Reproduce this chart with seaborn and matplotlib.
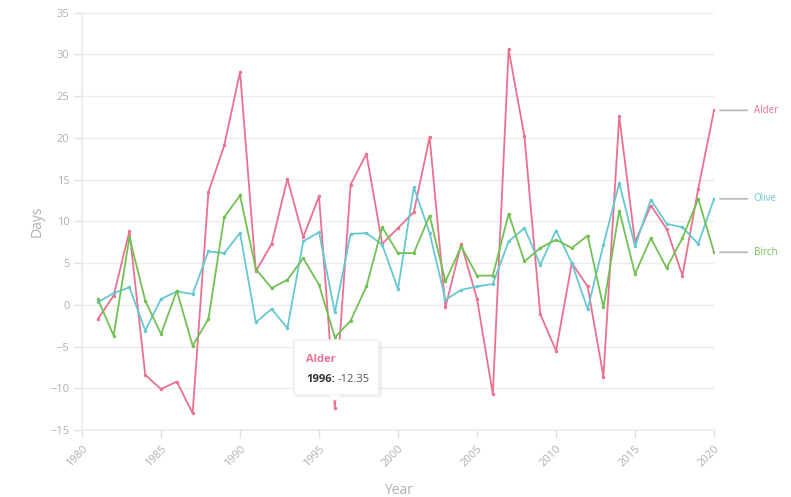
import matplotlib
matplotlib.use("Agg")
import matplotlib.pyplot as plt
from matplotlib.patches import FancyBboxPatch, Polygon
import seaborn as sns
import pandas as pd

years = list(range(1981, 2021))

alder = [-1.7, 1.1, 8.8, -8.4, -10.1, -9.2, -13.0, 13.5, 19.1, 27.9,
         4.0, 7.3, 15.1, 8.1, 13.0, -12.35, 14.4, 18.1, 7.3, 9.2,
         11.1, 20.1, -0.3, 7.3, 0.7, -10.7, 30.6, 20.2, -1.1, -5.5,
         5.0, 2.2, -8.6, 22.6, 7.5, 11.9, 9.1, 3.5, 13.9, 23.3]

olive = [0.3, 1.4, 2.1, -3.1, 0.7, 1.6, 1.3, 6.4, 6.2, 8.6,
         -2.1, -0.5, -2.8, 7.6, 8.7, -0.9, 8.5, 8.6, 7.2, 1.9,
         14.1, 8.6, 0.6, 1.8, 2.2, 2.5, 7.6, 9.2, 4.8, 8.9,
         5.0, -0.5, 7.2, 14.6, 7.0, 12.6, 9.7, 9.3, 7.3, 12.7]

birch = [0.7, -3.7, 8.1, 0.5, -3.5, 1.7, -4.9, -1.7, 10.5, 13.1,
         4.3, 2.0, 3.0, 5.6, 2.4, -3.9, -1.9, 2.2, 9.3, 6.2,
         6.2, 10.7, 2.8, 7.0, 3.5, 3.5, 10.9, 5.2, 6.8, 7.8,
         6.8, 8.3, -0.3, 11.3, 3.7, 8.0, 4.4, 8.0, 12.7, 6.3]

species = ["Alder", "Olive", "Birch"]
colors = {"Alder": "#ec7090", "Olive": "#66c8d3", "Birch": "#72c153"}

df = pd.DataFrame({
    "Year": years * 3,
    "Days": alder + olive + birch,
    "Species": [s for s in species for _ in years],
})

sns.set_theme(style="white")
plt.rcParams["font.family"] = ["Open Sans", "DejaVu Sans"]

fig = plt.figure(figsize=(7.91, 4.97), dpi=100)
ax = fig.add_axes([0.1037, 0.1348, 0.799, 0.8396])

sns.lineplot(data=df, x="Year", y="Days", hue="Species", palette=colors,
             marker="o", markersize=2.5, markeredgewidth=0, linewidth=1.3,
             legend=False, ax=ax)

grey_txt = "#b0b0b0"
ax.set_xlim(1980, 2020)
ax.set_ylim(-15, 35)
ax.set_xticks(range(1980, 2021, 5))
ax.set_yticks(range(-15, 36, 5))
ax.grid(axis="y", color="#ececec", linewidth=1)
ax.grid(axis="x", visible=False)
for side in ["top", "right"]:
    ax.spines[side].set_visible(False)
ax.spines["left"].set_color("#ececec")
ax.spines["bottom"].set_color("#ececec")
ax.tick_params(axis="both", colors="#e0e0e0", labelcolor=grey_txt,
               labelsize=8, length=6, width=1, left=True, bottom=True)
ax.tick_params(axis="y", pad=3)
plt.setp(ax.get_xticklabels(), rotation=45, ha="right", rotation_mode="anchor")
ax.set_xlabel("Year", color=grey_txt, fontsize=10, labelpad=10)
ax.set_ylabel("Days", color=grey_txt, fontsize=10, labelpad=4)

# end labels with leader lines
ends = {"Alder": alder[-1], "Olive": olive[-1], "Birch": birch[-1]}
for name, val in ends.items():
    ax.annotate("", xy=(2020.2, val), xytext=(2022.3, val),
                xycoords="data", annotation_clip=False,
                arrowprops=dict(arrowstyle="-", color="#bbbbbb", lw=1.3))
    ax.text(2022.5, val, name, color=colors[name], fontsize=7,
            va="center", ha="left", clip_on=False)

# tooltip
shadow = FancyBboxPatch((1993.5, -11.1), 5.5, 6.7, boxstyle="round,pad=0,rounding_size=0.15",
                        facecolor="#000000", alpha=0.05, edgecolor="none", zorder=4)
ax.add_patch(shadow)
box = FancyBboxPatch((1993.4, -10.8), 5.4, 6.6, boxstyle="round,pad=0,rounding_size=0.15",
                     facecolor="white", edgecolor="#e8e8e8", linewidth=0.8, zorder=5)
ax.add_patch(box)
ax.add_patch(Polygon([[1995.6, -10.8], [1996.4, -10.8], [1996.0, -11.5]],
                     closed=True, facecolor="white", edgecolor="none", zorder=6))
ax.text(1994.2, -6.6, "Alder", color=colors["Alder"], fontsize=8,
        fontweight="bold", zorder=7, va="center")
ax.text(1994.2, -8.9, "1996:", color="#333333", fontsize=8,
        fontweight="bold", zorder=7, va="center")
ax.text(1996.15, -8.9, "-12.35", color="#555555", fontsize=8, zorder=7, va="center")

fig.savefig("out.png", dpi=100)
